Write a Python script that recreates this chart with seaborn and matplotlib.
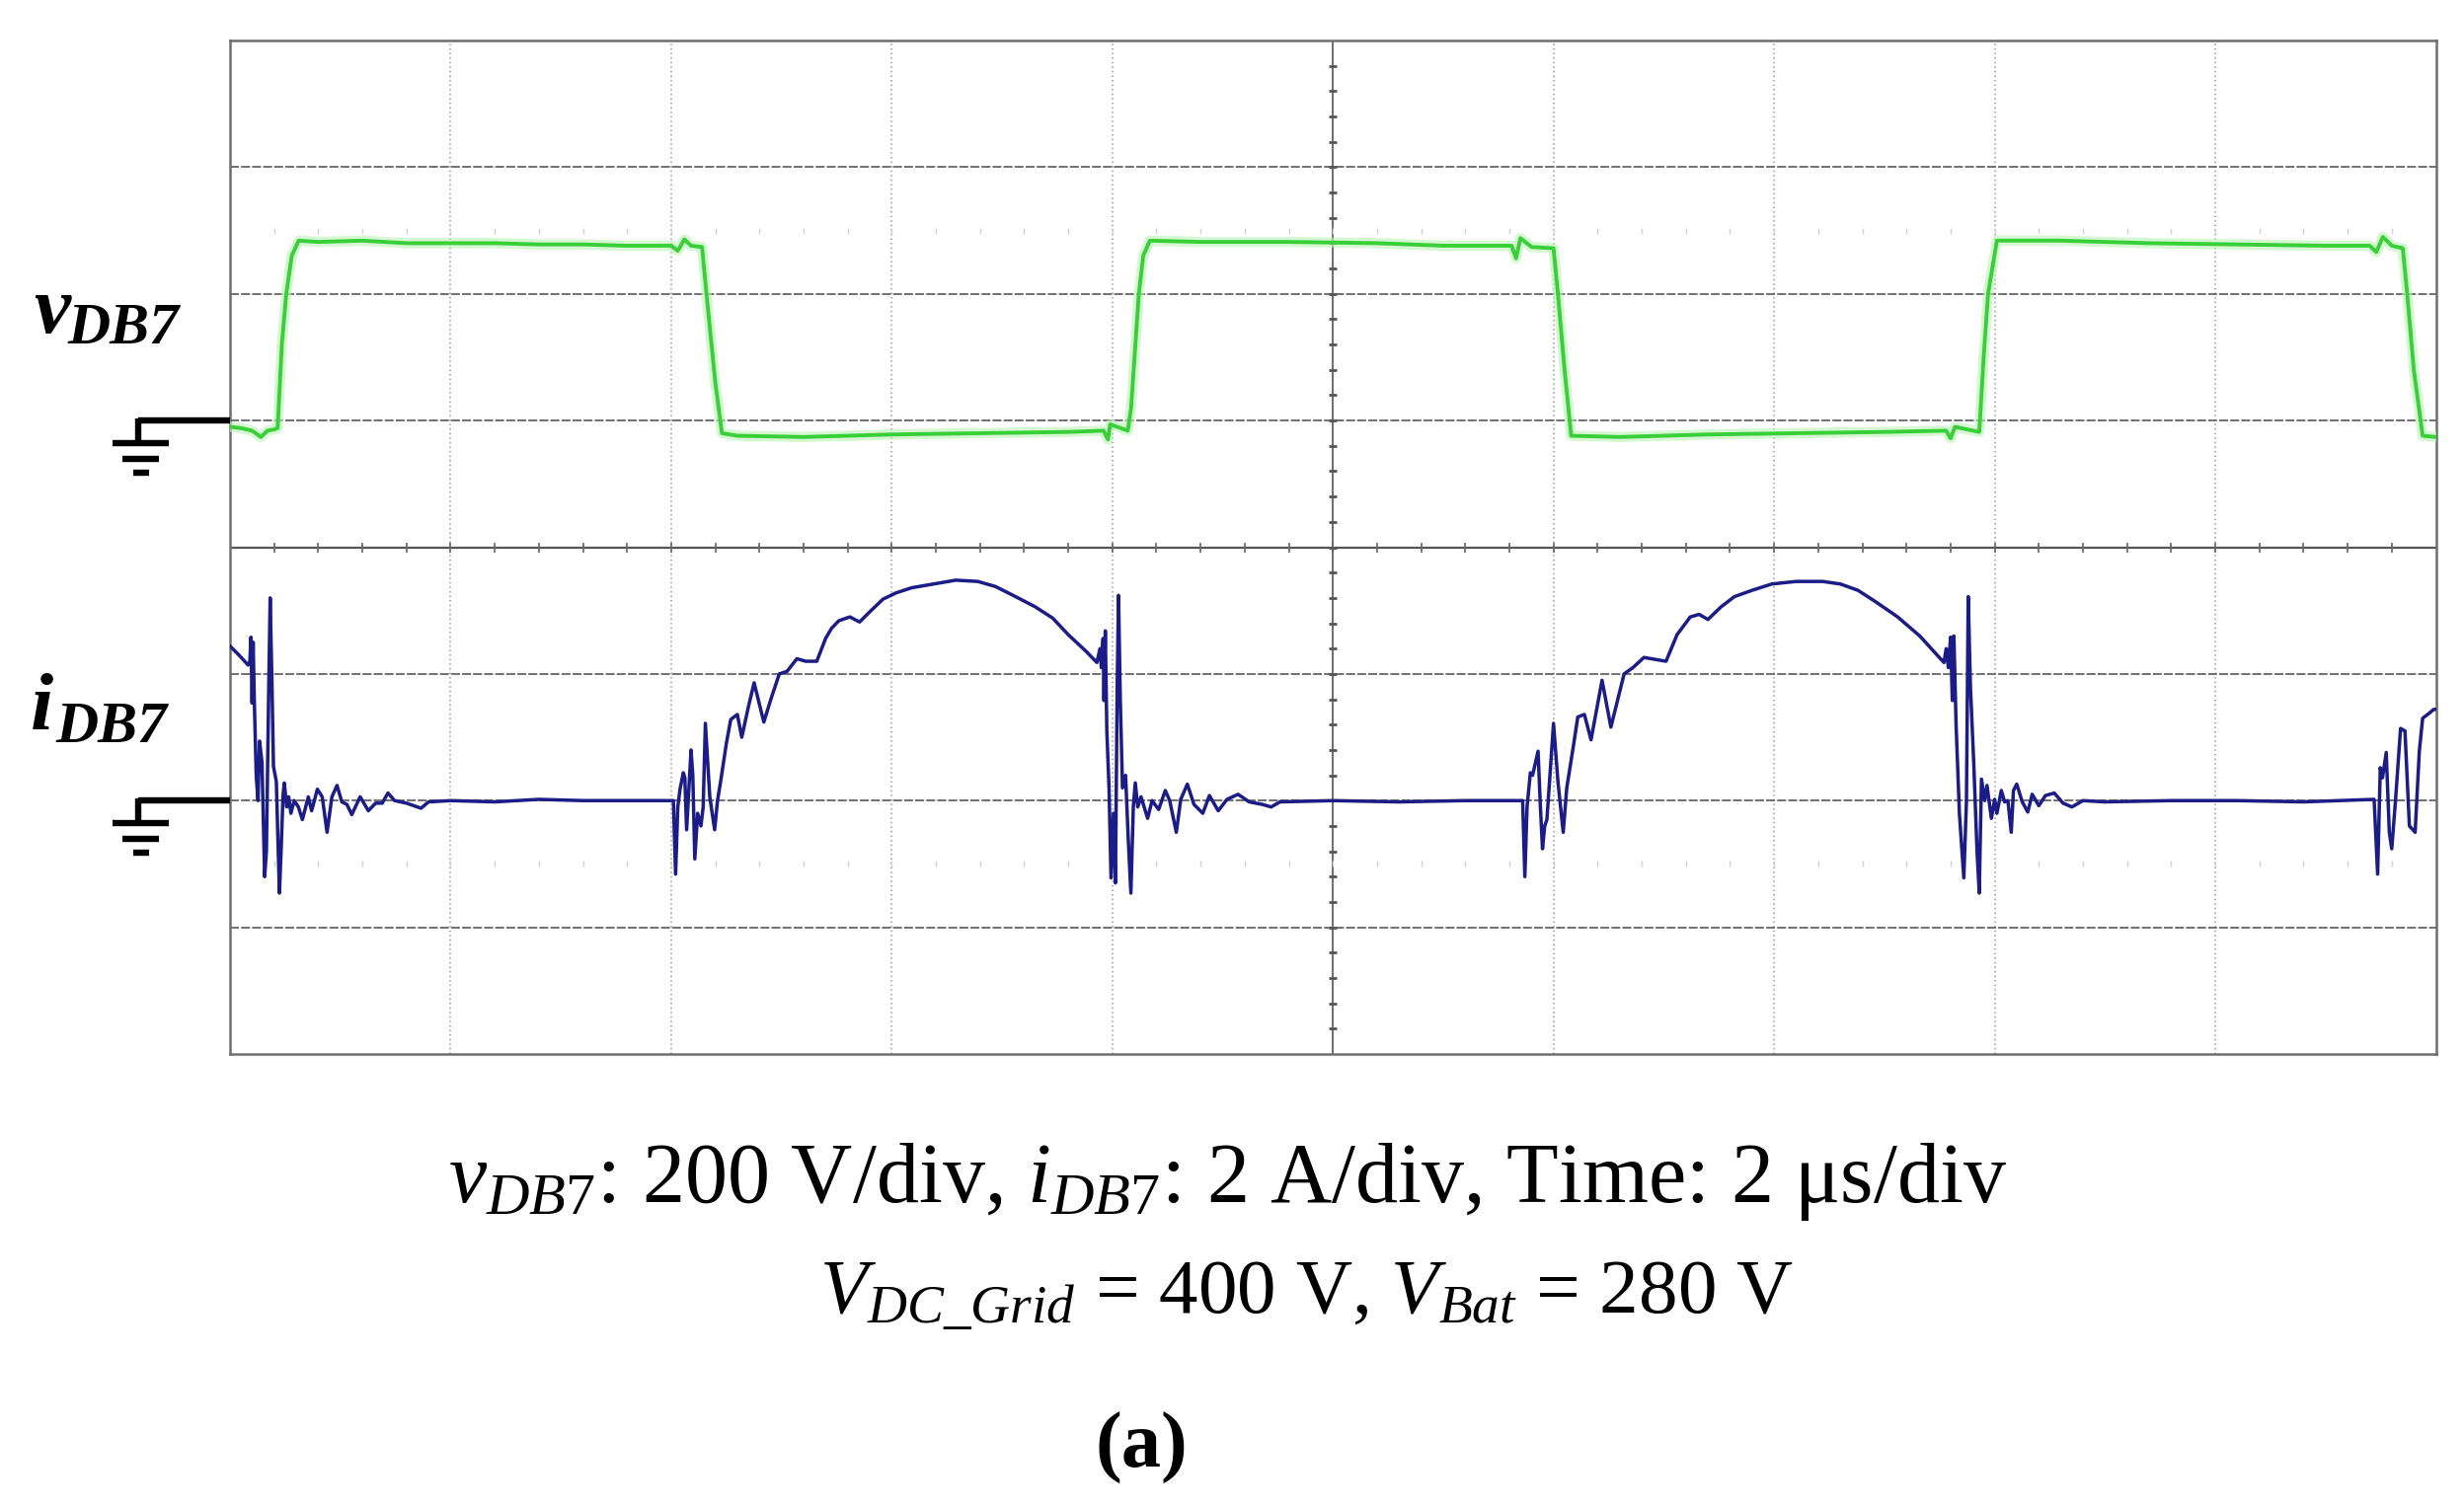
import numpy as np
import matplotlib
matplotlib.use('Agg')
import matplotlib.pyplot as plt
import seaborn as sns

# screen is 10 x 8 divisions; values below are read off the capture in divisions
# v_DB7 trace (green), ground reference at 5 div
green_t = [0.000, 0.050, 0.100, 0.140, 0.170, 0.200, 0.216, 0.235, 0.255, 0.280, 0.311,
           0.400, 0.600, 0.800, 1.000, 1.200, 1.400, 1.600, 1.800, 2.000, 2.030, 2.060,
           2.090, 2.140, 2.160, 2.200, 2.230, 2.300, 2.600, 3.000, 3.400, 3.800, 3.960,
           3.980, 3.990, 4.070, 4.085, 4.120, 4.140, 4.170, 4.400, 4.800, 5.200, 5.500,
           5.810, 5.830, 5.850, 5.900, 6.000, 6.020, 6.050, 6.080, 6.300, 6.700, 7.100,
           7.500, 7.780, 7.800, 7.820, 7.930, 7.950, 7.970, 8.010, 8.300, 8.700, 9.100,
           9.500, 9.700, 9.730, 9.760, 9.800, 9.850, 9.870, 9.900, 9.940, 10.000]
green_v = [4.95, 4.94, 4.92, 4.87, 4.92, 4.93, 4.94, 5.60, 6.00, 6.30, 6.42,
           6.41, 6.42, 6.40, 6.40, 6.40, 6.39, 6.39, 6.38, 6.38, 6.34, 6.43,
           6.38, 6.37, 6.00, 5.30, 4.90, 4.88, 4.87, 4.89, 4.90, 4.91, 4.92,
           4.85, 4.97, 4.92, 5.10, 6.00, 6.30, 6.42, 6.41, 6.41, 6.40, 6.38,
           6.38, 6.28, 6.44, 6.37, 6.36, 6.00, 5.40, 4.88, 4.87, 4.89, 4.90,
           4.91, 4.92, 4.86, 4.95, 4.91, 5.50, 6.00, 6.42, 6.42, 6.40, 6.39,
           6.38, 6.38, 6.33, 6.45, 6.38, 6.36, 6.00, 5.40, 4.88, 4.87]

# i_DB7 trace (blue), ground reference at 2 div
blue_t = [0.000, 0.040, 0.082, 0.090, 0.095, 0.100, 0.105, 0.110, 0.119, 0.127, 0.134,
          0.145, 0.157, 0.165, 0.176, 0.182, 0.190, 0.197, 0.210, 0.224, 0.232, 0.240,
          0.246, 0.257, 0.266, 0.276, 0.291, 0.310, 0.328, 0.355, 0.370, 0.396, 0.418,
          0.440, 0.462, 0.485, 0.507, 0.530, 0.552, 0.590, 0.627, 0.660, 0.690, 0.716,
          0.746, 0.800, 0.866, 0.900, 1.000, 1.200, 1.400, 1.600, 1.800, 2.010,
          2.020, 2.030, 2.040, 2.055, 2.062, 2.070, 2.090, 2.098, 2.107, 2.120, 2.135,
          2.145, 2.155, 2.175, 2.197, 2.210, 2.225, 2.250, 2.270, 2.300, 2.320, 2.350,
          2.376, 2.420, 2.450, 2.490, 2.525, 2.570, 2.610, 2.660, 2.700, 2.727, 2.760,
          2.810, 2.854, 2.900, 2.960, 3.020, 3.090, 3.190, 3.290, 3.390, 3.470, 3.550,
          3.650, 3.730, 3.800, 3.880, 3.930,
          3.944, 3.950, 3.958, 3.962, 3.968, 3.975, 3.985, 3.994, 4.005, 4.014, 4.022,
          4.028, 4.036, 4.046, 4.060, 4.072, 4.084, 4.095, 4.104, 4.115, 4.130, 4.160,
          4.180, 4.210, 4.240, 4.260, 4.290, 4.310, 4.340, 4.370, 4.410, 4.440, 4.480,
          4.520, 4.570, 4.620, 4.680, 4.720, 4.760, 5.000, 5.300, 5.600, 5.860,
          5.870, 5.880, 5.895, 5.905, 5.930, 5.940, 5.950, 5.960, 5.970, 6.000, 6.020,
          6.044, 6.060, 6.090, 6.110, 6.140, 6.170, 6.220, 6.260, 6.320, 6.360, 6.410,
          6.510, 6.560, 6.620, 6.660, 6.700, 6.760, 6.820, 6.900, 6.990, 7.100, 7.220,
          7.300, 7.380, 7.460, 7.560, 7.660, 7.770,
          7.780, 7.790, 7.800, 7.808, 7.815, 7.825, 7.840, 7.860, 7.872, 7.880, 7.890,
          7.905, 7.920, 7.930, 7.940, 7.955, 7.965, 7.985, 8.000, 8.010, 8.030, 8.045,
          8.060, 8.075, 8.085, 8.100, 8.125, 8.150, 8.170, 8.200, 8.230, 8.270, 8.310,
          8.350, 8.400, 8.500, 8.800, 9.100, 9.400, 9.720,
          9.736, 9.748, 9.758, 9.775, 9.789, 9.800, 9.817, 9.840, 9.860, 9.880, 9.906,
          9.925, 9.940, 9.970, 9.990, 10.000]
blue_i = [3.22, 3.15, 3.07, 3.10, 3.29, 2.77, 3.25, 2.80, 2.19, 2.00, 2.47,
          2.30, 1.40, 1.60, 2.94, 3.60, 2.94, 2.27, 2.15, 1.27, 1.62, 2.03,
          2.14, 1.95, 2.03, 1.90, 2.00, 1.95, 1.85, 2.03, 1.92, 2.09, 2.03,
          1.75, 2.03, 2.12, 1.99, 1.97, 1.89, 2.03, 1.92, 1.98, 1.98, 2.06,
          2.00, 1.98, 1.94, 1.99, 2.00, 1.99, 2.01, 2.00, 2.00, 2.00,
          1.42, 1.95, 2.09, 2.22, 2.18, 1.77, 2.40, 2.20, 1.54, 1.90, 1.80,
          1.95, 2.61, 2.03, 1.77, 2.00, 2.16, 2.45, 2.64, 2.68, 2.50, 2.74,
          2.93, 2.62, 2.79, 3.00, 3.02, 3.12, 3.10, 3.10, 3.28, 3.36, 3.42,
          3.45, 3.41, 3.49, 3.59, 3.64, 3.68, 3.71, 3.74, 3.73, 3.69, 3.62,
          3.53, 3.44, 3.31, 3.18, 3.09,
          3.20, 3.05, 3.28, 2.79, 3.34, 2.55, 2.10, 1.39, 1.90, 1.35, 2.90,
          3.62, 2.80, 2.10, 2.20, 1.70, 1.27, 1.95, 2.14, 1.95, 2.03, 1.86,
          2.00, 1.93, 2.08, 2.00, 1.75, 2.01, 2.13, 1.97, 1.90, 2.04, 1.92,
          2.01, 2.05, 1.99, 1.97, 1.95, 1.99, 2.00, 1.99, 2.00, 2.00,
          1.40, 1.95, 2.22, 2.20, 2.39, 1.97, 1.62, 1.80, 1.85, 2.61, 2.15,
          1.75, 2.10, 2.43, 2.66, 2.68, 2.48, 2.95, 2.58, 3.00, 3.05, 3.13,
          3.10, 3.31, 3.45, 3.47, 3.43, 3.53, 3.61, 3.66, 3.71, 3.73, 3.73,
          3.71, 3.66, 3.57, 3.45, 3.30, 3.09,
          3.20, 3.05, 3.29, 2.79, 3.30, 2.60, 1.90, 1.39, 2.00, 3.61, 2.90,
          2.30, 1.60, 1.27, 2.17, 2.00, 2.12, 1.86, 2.01, 1.90, 2.08, 1.99,
          2.00, 1.75, 2.08, 2.13, 1.99, 1.91, 2.05, 1.96, 2.04, 2.06, 1.98,
          1.95, 2.00, 1.99, 2.00, 2.00, 1.99, 2.01,
          1.42, 2.26, 2.18, 2.38, 1.75, 1.62, 2.00, 2.57, 2.55, 1.80, 1.75,
          2.39, 2.65, 2.69, 2.72, 2.72]

v_ground = 5
i_ground = 2

sns.set_style('white')
plt.rcParams['font.family'] = ['Liberation Serif', 'DejaVu Serif']
plt.rcParams['text.color'] = 'black'
plt.rcParams['mathtext.fontset'] = 'custom'
plt.rcParams['mathtext.rm'] = 'Liberation Serif'
plt.rcParams['mathtext.it'] = 'Liberation Serif:italic'
plt.rcParams['mathtext.bf'] = 'Liberation Serif:bold'

W, H = 2496, 1527
fig = plt.figure(figsize=(W / 100, H / 100), dpi=100)
ax = fig.add_axes([233 / W, 1 - 1068 / H, (2467.5 - 233) / W, 1027 / H])
ax.set_xlim(0, 10)
ax.set_ylim(0, 8)
ax.set_xticks([])
ax.set_yticks([])
for s in ax.spines.values():
    s.set_color('#6e6e6e')
    s.set_linewidth(1.8)

# scope graticule
for k in range(1, 10):
    if k == 5:
        ax.axvline(k, color='#555555', lw=1.2, zorder=1)
    else:
        ax.axvline(k, color='#9a9a9a', lw=1.1, ls=(0, (1, 2)), zorder=1)
for k in range(1, 8):
    if k == 4:
        ax.axhline(k, color='#555555', lw=1.6, zorder=1)
    else:
        ax.axhline(k, color='#666666', lw=1.3, ls=(0, (5, 1.2)), zorder=1)
minor_x = np.arange(0.2, 10, 0.2)
minor_y = np.arange(0.2, 8, 0.2)
ax.plot(minor_x, np.full_like(minor_x, 4), ls='none', marker='|', ms=7, mew=1.2, color='#666666')
ax.plot(np.full_like(minor_y, 5), minor_y, ls='none', marker='_', ms=6, mew=2, color='#555555')
for row in (6.5, 1.5):
    ax.plot(minor_x, np.full_like(minor_x, row), ls='none', marker='|', ms=5, mew=1, color='#d2d2d2')

# traces
sns.lineplot(x=green_t, y=green_v, sort=False, estimator=None, color='#b9f2b4',
             lw=7.5, alpha=0.6, ax=ax, zorder=3)
sns.lineplot(x=green_t, y=green_v, sort=False, estimator=None, color='#38cf38',
             lw=2.8, ax=ax, zorder=4)
sns.lineplot(x=blue_t, y=blue_i, sort=False, estimator=None, color='#1c1c86',
             lw=2.5, ax=ax, zorder=5)

# ground markers at the left edge
for g in (v_ground, i_ground):
    kw = dict(color='black', lw=4.6, solid_capstyle='butt', clip_on=False, zorder=6)
    ax.plot([-0.414, 0.0], [g, g], **kw)
    ax.plot([-0.414, -0.414], [g + 0.02, g - 0.18], **kw)
    ax.plot([-0.534, -0.278], [g - 0.18, g - 0.18], **kw)
    ax.plot([-0.490, -0.320], [g - 0.30, g - 0.30], **kw)
    ax.plot([-0.440, -0.365], [g - 0.41, g - 0.41], **kw)

# channel labels
lab = dict(fontweight='bold', style='italic', va='baseline', ha='left', color='black')
fig.text(34 / W, 1 - 337 / H, 'v', fontsize=60, **lab)
fig.text(68 / W, 1 - 348 / H, 'DB7', fontsize=43, **lab)
fig.text(31 / W, 1 - 739 / H, 'i', fontsize=60, **lab)
fig.text(56 / W, 1 - 752 / H, 'DB7', fontsize=43, **lab)

# caption
fig.text(1244 / W, 1 - 1218 / H,
         r'$\mathit{v}_{\mathit{DB7}}$: 200 V/div, $\mathit{i}_{\mathit{DB7}}$: 2 A/div, Time: 2 μs/div',
         fontsize=62, ha='center', va='baseline', color='black')
fig.text(1323 / W, 1 - 1330 / H,
         r'$\mathit{V}_{\mathit{DC\_Grid}}$ = 400 V, $\mathit{V}_{\mathit{Bat}}$ = 280 V',
         fontsize=57, ha='center', va='baseline', color='black')
fig.text(1156 / W, 1 - 1487 / H, '(a)', fontsize=58, fontweight='bold', ha='center',
         va='baseline', color='black')

fig.savefig('out.png', dpi=100, facecolor='white')
